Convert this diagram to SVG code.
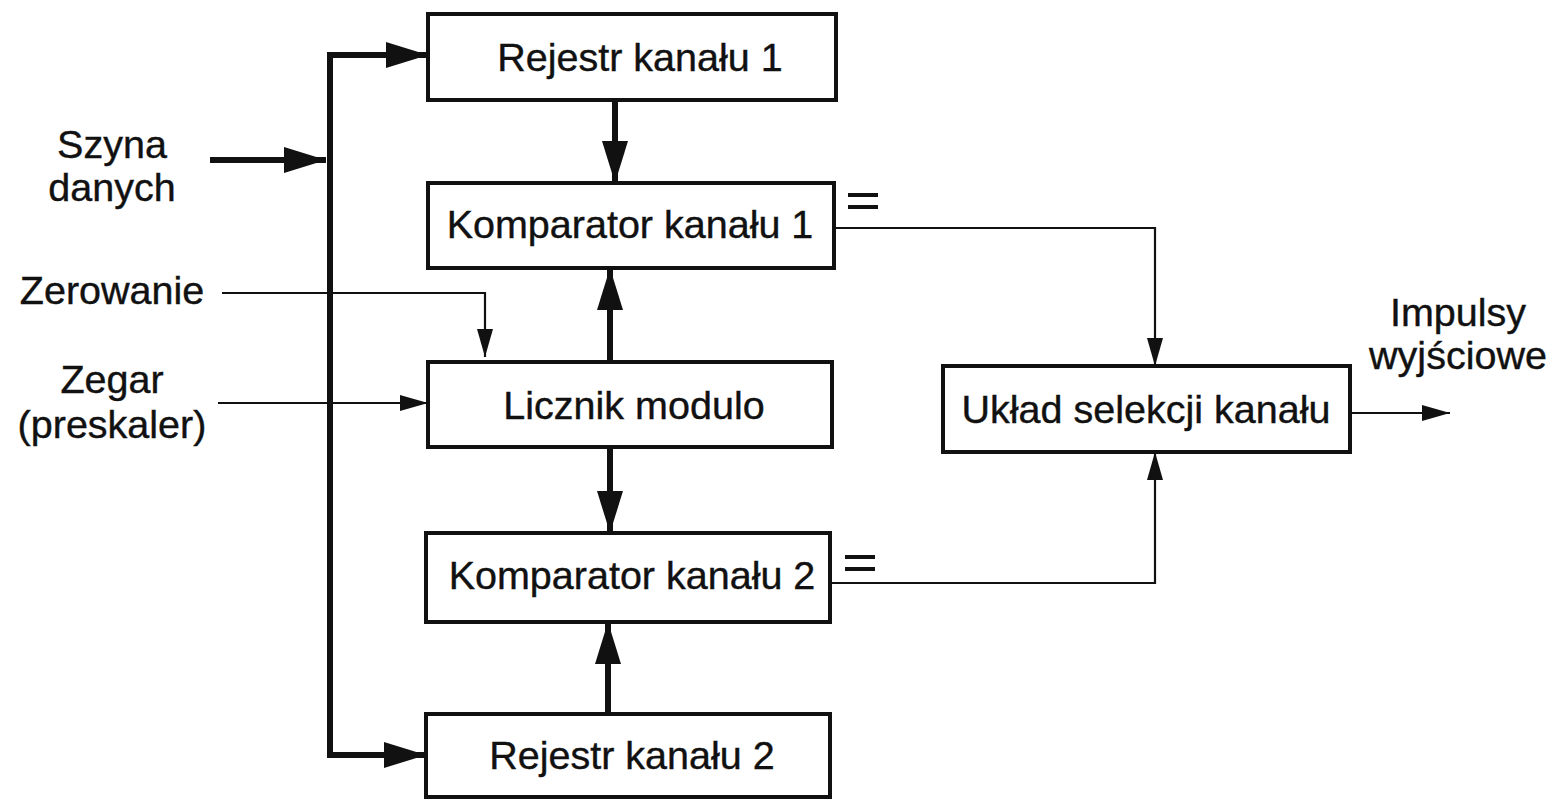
<svg xmlns="http://www.w3.org/2000/svg" width="1553" height="801" viewBox="0 0 1553 801">
<style>
.box{fill:#fff;stroke:#111;stroke-width:4}
.t{font-family:"Liberation Sans",Arial,sans-serif;font-size:39.5px;fill:#111;text-anchor:middle;stroke:#111;stroke-width:0.4}
.thick{fill:none;stroke:#111;stroke-width:6}
.thin{fill:none;stroke:#111;stroke-width:2.2}
.eq{stroke:#111;stroke-width:4}
</style>
<defs>
<marker id="ah" markerUnits="userSpaceOnUse" markerWidth="44" markerHeight="28" refX="42" refY="13" orient="auto"><path d="M0,0 L42,13 L0,26 z" fill="#111"/></marker>
<marker id="at" markerUnits="userSpaceOnUse" markerWidth="30" markerHeight="18" refX="28" refY="8" orient="auto"><path d="M0,0 L28,8 L0,16 z" fill="#111"/></marker>
</defs>
<rect width="1553" height="801" fill="#fff"/>
<g id="connectors">
<path class="thick" d="M428,55 H330 V755 H426" marker-end="url(#ah)"/>
<path class="thick" d="M330,55 H428" marker-end="url(#ah)"/>
<path class="thick" d="M210,160 H326" marker-end="url(#ah)"/>
<path class="thick" d="M615,100 V183" marker-end="url(#ah)"/>
<path class="thick" d="M610,362 V268" marker-end="url(#ah)"/>
<path class="thick" d="M610,447 V533" marker-end="url(#ah)"/>
<path class="thick" d="M608,714 V622" marker-end="url(#ah)"/>
<path class="thin" d="M222,293 H485 V357" marker-end="url(#at)"/>
<path class="thin" d="M218,403 H428" marker-end="url(#at)"/>
<path class="thin" d="M835,228 H1155 V366" marker-end="url(#at)"/>
<path class="thin" d="M830,583 H1155 V452" marker-end="url(#at)"/>
<path class="thin" d="M1350,413 H1450" marker-end="url(#at)"/>
<line class="eq" x1="848" y1="195" x2="878" y2="195"/>
<line class="eq" x1="848" y1="207" x2="878" y2="207"/>
<line class="eq" x1="845" y1="557" x2="875" y2="557"/>
<line class="eq" x1="845" y1="569" x2="875" y2="569"/>
</g>
<g id="rej1"><rect class="box" x="428" y="14" width="408" height="86"/><text class="t" x="640" y="71">Rejestr kanału 1</text></g>
<g id="komp1"><rect class="box" x="428" y="183" width="406" height="85"/><text class="t" x="630" y="238">Komparator kanału 1</text></g>
<g id="licznik"><rect class="box" x="428" y="362" width="404" height="85"/><text class="t" x="634" y="419">Licznik modulo</text></g>
<g id="komp2"><rect class="box" x="426" y="533" width="404" height="89"/><text class="t" x="632" y="589">Komparator kanału 2</text></g>
<g id="rej2"><rect class="box" x="426" y="714" width="404" height="83"/><text class="t" x="632" y="769">Rejestr kanału 2</text></g>
<g id="uklad"><rect class="box" x="943" y="366" width="407" height="86"/><text class="t" x="1146" y="423">Układ selekcji kanału</text></g>
<g id="labels">
<text class="t" x="112" y="158">Szyna</text>
<text class="t" x="112" y="201">danych</text>
<text class="t" x="112" y="304">Zerowanie</text>
<text class="t" x="112" y="393">Zegar</text>
<text class="t" x="112" y="438">(preskaler)</text>
<text class="t" x="1458" y="326">Impulsy</text>
<text class="t" x="1458" y="369">wyjściowe</text>
</g>
</svg>
